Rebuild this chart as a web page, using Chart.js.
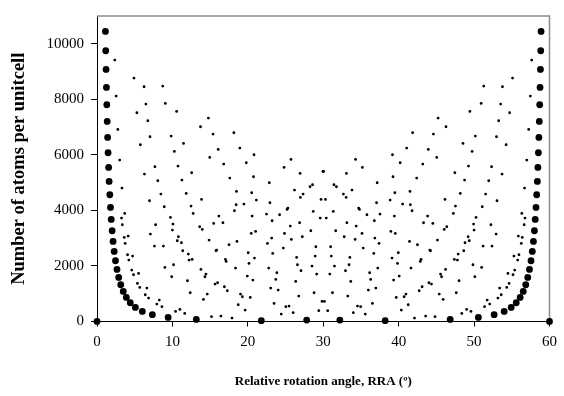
<!DOCTYPE html>
<html>
<head>
<meta charset="utf-8">
<script src="https://cdn.jsdelivr.net/npm/chart.js@4.4.1/dist/chart.umd.min.js"></script>
<style>
  html, body { margin: 0; padding: 0; background: #fff; }
  #wrap { width: 564px; height: 396px; }
</style>
</head>
<body>
<div id="wrap"><canvas id="chart" width="564" height="396"></canvas></div>
<script>
// Axis ticks
const xTicks = [0, 10, 20, 30, 40, 50, 60];
const yTicks = [0, 2000, 4000, 6000, 8000, 10000];

// Large dots: angle (deg), its mirror angle, atoms per unit cell
const bigAngle = [60, 21.79, 13.17, 9.43, 7.34, 6.01, 5.09, 4.41, 3.89, 3.48, 3.15, 2.88, 2.65, 2.45, 2.28, 2.13,
  2.01, 1.89, 1.79, 1.70, 1.61, 1.54, 1.47, 1.41, 1.35, 1.30, 1.25, 1.20, 1.16, 1.12, 32.20];
const bigMirror = [0, 38.21, 46.83, 50.57, 52.66, 53.99, 54.92, 55.59, 56.11, 56.52, 56.85, 57.12, 57.35, 57.55, 57.72, 57.87,
  58.00, 58.11, 58.21, 58.30, 58.39, 58.46, 58.53, 58.59, 58.65, 58.70, 58.75, 58.80, 58.84, 58.88, 27.80];
const bigAtoms = [4, 28, 76, 148, 244, 364, 508, 676, 868, 1084, 1324, 1588, 1876, 2188, 2524, 2884,
  3268, 3676, 4108, 4564, 5044, 5548, 6076, 6628, 7204, 7804, 8428, 9076, 9748, 10444, 52];

// Small dots, grouped by family
const smallAngle = [
  16.43, 10.99, 8.26, 6.61, 5.51, 4.72, 4.13, 3.67, 3.31, 3.01, 2.76, 2.54, 2.36,
  42.10, 26.01, 18.73, 14.62, 11.99, 10.15, 8.80, 7.77, 6.96, 6.29, 5.75, 5.29, 4.90,
  44.82, 35.57, 29.41, 25.04, 19.28, 17.28, 15.65, 14.31, 12.21, 11.37, 10.64, 10.00, 8.92, 8.47, 8.06, 7.68, 7.03, 6.74, 6.48, 6.24,
  48.37, 40.35, 34.54, 30.16, 26.75, 24.02, 19.93, 18.37, 17.03, 15.87, 14.86, 13.96, 12.47, 11.83, 11.26, 10.74, 10.26, 9.83, 9.06, 8.72,
  49.58, 36.52, 28.78, 23.71, 20.15, 17.51, 15.47, 13.86, 12.55, 11.47, 10.56,
  51.39, 39.68, 27.05, 23.30, 20.45, 18.22, 14.95, 13.72,
  52.07, 45.90, 40.97, 36.97, 33.65, 30.87, 28.51, 26.47, 24.71, 23.16, 20.57, 19.48, 18.50, 17.61, 16.80, 16.07, 15.39, 14.77,
  53.16, 47.64, 43.11, 39.33, 36.15, 33.42, 31.07, 29.02, 27.22, 25.63, 24.21, 22.93, 20.75, 19.80, 18.94, 18.15,
  53.60, 44.01, 37.23, 28.35, 25.31, 22.85, 20.82,
  54.33, 45.55, 39.12, 34.23, 30.40, 27.33, 24.81,
  54.64, 50.10, 46.22, 42.87, 39.95, 37.40, 35.14, 33.13, 31.33, 29.71, 28.25, 26.93, 25.72,
  55.16, 51.00, 47.38, 44.22, 41.44, 38.97, 36.78, 34.80, 33.03, 31.42, 29.96,
  55.39, 47.89, 37.52, 33.81,
  55.78, 48.80, 43.30, 38.87,
  55.95, 52.38, 49.21, 46.38, 43.84, 41.55, 39.49,
  56.26, 52.92, 49.93, 47.25,
  56.39, 50.26,
  56.64,
  56.75
];
const smallMirror = [
  43.57, 49.01, 51.74, 53.39, 54.49, 55.28, 55.87, 56.33, 56.69, 56.99, 57.24, 57.46, 57.64,
  17.90, 33.99, 41.27, 45.38, 48.01, 49.85, 51.20, 52.23, 53.04, 53.71, 54.25, 54.71, 55.10,
  15.18, 24.43, 30.59, 34.96, 40.72, 42.72, 44.35, 45.69, 47.79, 48.63, 49.36, 50.00, 51.08, 51.53, 51.94, 52.32, 52.97, 53.26, 53.52, 53.76,
  11.63, 19.65, 25.46, 29.84, 33.25, 35.98, 40.07, 41.63, 42.97, 44.13, 45.14, 46.04, 47.53, 48.17, 48.74, 49.26, 49.74, 50.17, 50.94, 51.28,
  10.42, 23.48, 31.22, 36.29, 39.85, 42.49, 44.53, 46.14, 47.45, 48.53, 49.44,
  8.61, 20.32, 32.95, 36.70, 39.55, 41.78, 45.05, 46.28,
  7.93, 14.11, 19.03, 23.03, 26.35, 29.13, 31.49, 33.53, 35.30, 36.84, 39.43, 40.52, 41.50, 42.39, 43.20, 43.93, 44.61, 45.23,
  6.84, 12.36, 16.89, 20.67, 23.85, 26.58, 28.93, 30.98, 32.78, 34.37, 35.79, 37.07, 39.25, 40.20, 41.06, 41.85,
  6.40, 15.99, 22.77, 31.65, 34.69, 37.15, 39.18,
  5.67, 14.45, 20.88, 25.77, 29.60, 32.67, 35.19,
  5.36, 9.90, 13.78, 17.13, 20.05, 22.60, 24.86, 26.87, 28.67, 30.29, 31.75, 33.07, 34.28,
  4.84, 9.00, 12.62, 15.78, 18.56, 21.03, 23.22, 25.20, 26.97, 28.58, 30.04,
  4.61, 12.11, 22.48, 26.19,
  4.22, 11.20, 16.70, 21.13,
  4.05, 7.62, 10.79, 13.62, 16.16, 18.45, 20.51,
  3.74, 7.08, 10.07, 12.75,
  3.61, 9.74,
  3.36,
  3.25
];
const smallAtoms = [
  196, 436, 772, 1204, 1732, 2356, 3076, 3892, 4804, 5812, 6916, 8116, 9412,
  124, 316, 604, 988, 1468, 2044, 2716, 3484, 4348, 5308, 6364, 7516, 8764,
  172, 268, 388, 532, 892, 1108, 1348, 1612, 2212, 2548, 2908, 3292, 4132, 4588, 5068, 5572, 6652, 7228, 7828, 8452,
  292, 412, 556, 724, 916, 1132, 1636, 1924, 2236, 2572, 2932, 3316, 4156, 4612, 5092, 5596, 6124, 6676, 7852, 8476,
  364, 652, 1036, 1516, 2092, 2764, 3532, 4396, 5356, 6412, 7564,
  532, 868, 1828, 2452, 3172, 3988, 5908, 7012,
  628, 796, 988, 1204, 1444, 1708, 1996, 2308, 2644, 3004, 3796, 4228, 4684, 5164, 5668, 6196, 6748, 7324,
  844, 1036, 1252, 1492, 1756, 2044, 2356, 2692, 3052, 3436, 3844, 4276, 5212, 5716, 6244, 6796,
  964, 1396, 1924, 3268, 4084, 4996, 6004,
  1228, 1708, 2284, 2956, 3724, 4588, 5548,
  1372, 1612, 1876, 2164, 2476, 2812, 3172, 3556, 3964, 4396, 4852, 5332, 5836,
  1684, 1948, 2236, 2548, 2884, 3244, 3628, 4036, 4468, 4924, 5404,
  1852, 2428, 3868, 4732,
  2212, 2836, 3556, 4372,
  2404, 2716, 3052, 3412, 3796, 4204, 4636,
  2812, 3148, 3508, 3892,
  3028, 3748,
  3484,
  3724
];

const xTitle = 'Relative rotation angle, RRA (º)';
const yTitle = 'Number of atoms per unitcell';

function toPoints(xs, ys) {
  return xs.map((x, i) => ({ x: x, y: ys[i] }));
}

const serif = "'Liberation Serif', 'Times New Roman', serif";

// grey frame on top and right of plot area
const frame = {
  id: 'frame',
  beforeDatasetsDraw(chart) {
    const { ctx, chartArea } = chart;
    ctx.save();
    ctx.strokeStyle = '#8c8c8c';
    ctx.lineWidth = 1.5;
    ctx.beginPath();
    ctx.moveTo(chartArea.left, chartArea.top);
    ctx.lineTo(chartArea.right, chartArea.top);
    ctx.lineTo(chartArea.right, chartArea.bottom);
    ctx.stroke();
    ctx.restore();
  }
};

const ctx = document.getElementById('chart').getContext('2d');
new Chart(ctx, {
  type: 'scatter',
  data: {
    datasets: [
      {
        data: toPoints(bigAngle, bigAtoms).concat(toPoints(bigMirror, bigAtoms)),
        backgroundColor: '#000',
        borderWidth: 0,
        pointRadius: 3.4,
        clip: false
      },
      {
        data: toPoints(smallAngle, smallAtoms).concat(toPoints(smallMirror, smallAtoms)),
        backgroundColor: '#000',
        borderWidth: 0,
        pointRadius: 1.4,
        clip: false
      }
    ]
  },
  options: {
    responsive: false,
    animation: false,
    events: [],
    layout: { padding: { top: 6, right: 14, left: 0, bottom: 0 } },
    plugins: { legend: { display: false }, tooltip: { enabled: false } },
    scales: {
      x: {
        type: 'linear',
        min: 0,
        max: 60,
        afterFit: s => { s.height = 74.5; },
        afterBuildTicks: s => { s.ticks = xTicks.map(v => ({ value: v })); },
        ticks: { color: '#000', padding: 7, callback: v => String(v), font: { family: serif, size: 15 } },
        grid: { drawOnChartArea: false, drawTicks: true, tickLength: 5, color: '#000' },
        border: { color: '#000', width: 1 },
        title: { display: true, text: xTitle, color: '#000', padding: { top: 0, bottom: 7 },
          font: { family: serif, size: 13, weight: 'bold' } }
      },
      y: {
        type: 'linear',
        min: 0,
        max: 11000,
        afterFit: s => { s.width = 97; },
        afterBuildTicks: s => { s.ticks = yTicks.map(v => ({ value: v })); },
        ticks: { color: '#000', padding: 7, callback: v => String(v), font: { family: serif, size: 15 } },
        grid: { drawOnChartArea: false, drawTicks: true, tickLength: 6, color: '#000' },
        border: { color: '#000', width: 1 },
        title: { display: true, text: yTitle, color: '#000', padding: { top: 8, bottom: 0 },
          font: { family: serif, size: 18.5, weight: 'bold' } }
      }
    }
  },
  plugins: [frame]
});
</script>
</body>
</html>
